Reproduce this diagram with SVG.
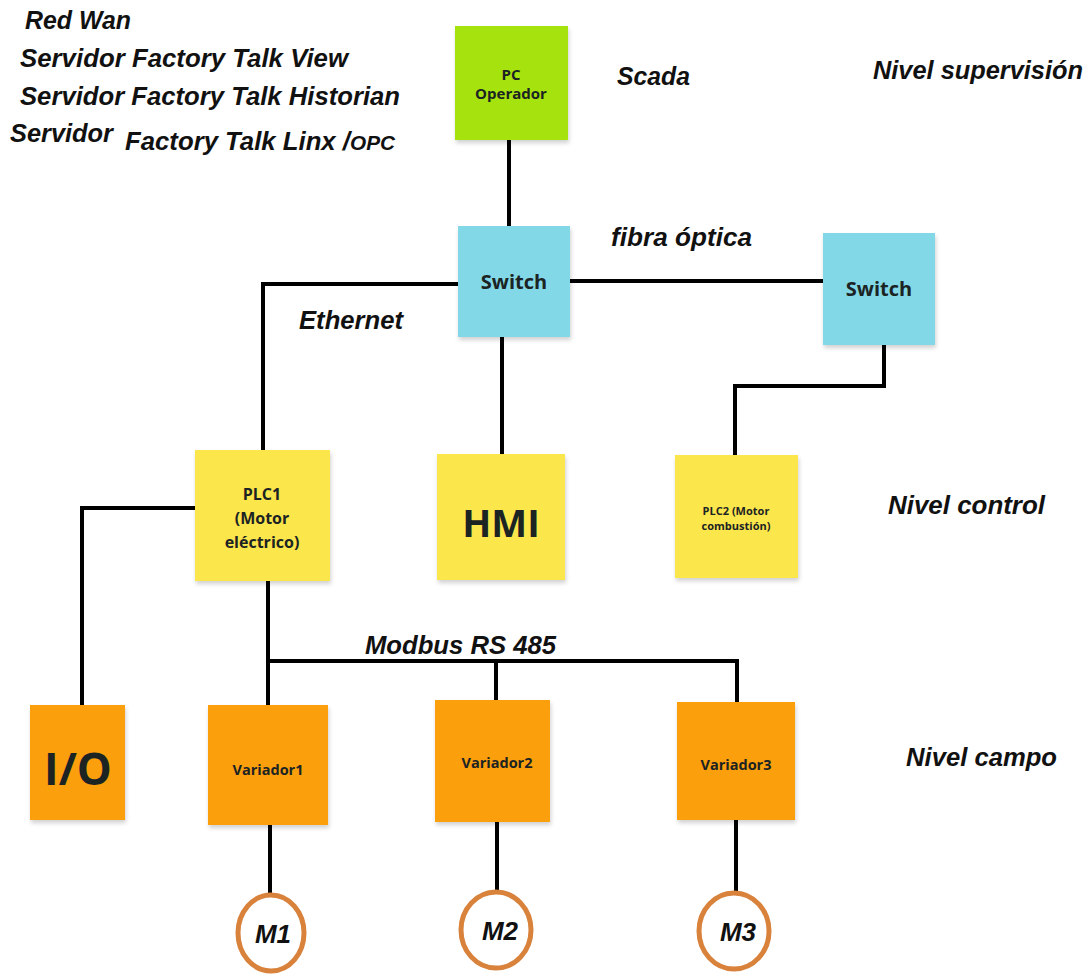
<svg xmlns="http://www.w3.org/2000/svg" width="1092" height="976" viewBox="0 0 1092 976">
<style>
.lbl{font-family:"Liberation Sans",Arial,sans-serif;font-weight:bold;font-style:italic;fill:#111;font-size:25px}
.bx{font-family:"Open Sans","Liberation Sans",sans-serif;font-weight:bold;fill:#1b2323;text-anchor:middle}
.ln{stroke:#000;stroke-width:4;fill:none}
.mot{fill:#fff;stroke:#d8823c;stroke-width:5}
.mt{font-family:"Liberation Sans",Arial,sans-serif;font-weight:bold;font-style:italic;font-size:26px;fill:#111;text-anchor:middle}
</style>
<defs>
<filter id="sh" x="-10%" y="-10%" width="130%" height="130%">
<feDropShadow dx="1" dy="3" stdDeviation="2" flood-color="#000" flood-opacity="0.18"/>
</filter>
</defs>
<rect width="1092" height="976" fill="#fff"/>

<g id="labels">
<text class="lbl" x="25" y="29" textLength="106" lengthAdjust="spacingAndGlyphs">Red Wan</text>
<text class="lbl" x="20" y="67" textLength="328" lengthAdjust="spacingAndGlyphs">Servidor Factory Talk View</text>
<text class="lbl" x="20" y="105" textLength="380" lengthAdjust="spacingAndGlyphs">Servidor Factory Talk Historian</text>
<text class="lbl" x="10" y="142" textLength="103" lengthAdjust="spacingAndGlyphs">Servidor</text>
<text class="lbl" x="125" y="150"><tspan textLength="225" lengthAdjust="spacingAndGlyphs">Factory Talk Linx /</tspan><tspan font-size="20" textLength="45" lengthAdjust="spacingAndGlyphs">OPC</tspan></text>
<text class="lbl" x="617" y="85" textLength="73" lengthAdjust="spacingAndGlyphs">Scada</text>
<text class="lbl" x="873" y="79" textLength="210" lengthAdjust="spacingAndGlyphs">Nivel supervisión</text>
<text class="lbl" x="611" y="246" textLength="141" lengthAdjust="spacingAndGlyphs">fibra óptica</text>
<text class="lbl" x="299" y="329" textLength="104" lengthAdjust="spacingAndGlyphs">Ethernet</text>
<text class="lbl" x="888" y="514" textLength="157" lengthAdjust="spacingAndGlyphs">Nivel control</text>
<text class="lbl" x="365" y="654" textLength="191" lengthAdjust="spacingAndGlyphs">Modbus RS 485</text>
<text class="lbl" x="906" y="766" textLength="151" lengthAdjust="spacingAndGlyphs">Nivel campo</text>
</g>

<g id="connectors">
<path class="ln" d="M509,140 V226"/>
<path class="ln" d="M570,281 H823"/>
<path class="ln" d="M458,284 H263 V450"/>
<path class="ln" d="M502,337 V455"/>
<path class="ln" d="M884,345 V386 H735 V455"/>
<path class="ln" d="M195,508 H82 V705"/>
<path class="ln" d="M268,581 V705"/>
<path class="ln" d="M268,661 H737 V702"/>
<path class="ln" d="M496,661 V700"/>
<path class="ln" d="M270,825 V895"/>
<path class="ln" d="M497,822 V890"/>
<path class="ln" d="M736,820 V892"/>
</g>

<g id="pc-operador">
<rect x="455" y="26" width="113" height="114" fill="#a6e20a" filter="url(#sh)"/>
<text class="bx" x="511" y="80" font-size="15">PC</text>
<text class="bx" x="511" y="99" font-size="15">Operador</text>
</g>
<g id="switch1">
<rect x="458" y="226" width="112" height="111" fill="#82d8e6" filter="url(#sh)"/>
<text class="bx" x="514" y="289" font-size="20">Switch</text>
</g>
<g id="switch2">
<rect x="823" y="233" width="112" height="112" fill="#82d8e6" filter="url(#sh)"/>
<text class="bx" x="879" y="296" font-size="20">Switch</text>
</g>
<g id="plc1">
<rect x="195" y="450" width="135" height="131" fill="#fbe64c" filter="url(#sh)"/>
<text class="bx" x="262" y="500" font-size="16">PLC1</text>
<text class="bx" x="262" y="524" font-size="16">(Motor</text>
<text class="bx" x="262" y="548" font-size="16">eléctrico)</text>
</g>
<g id="hmi">
<rect x="437" y="454" width="128" height="126" fill="#fbe64c" filter="url(#sh)"/>
<text class="bx" x="501" y="537" font-size="38">HMI</text>
</g>
<g id="plc2">
<rect x="675" y="455" width="123" height="123" fill="#fbe64c" filter="url(#sh)"/>
<text class="bx" x="736" y="515" font-size="11">PLC2 (Motor</text>
<text class="bx" x="736" y="530" font-size="11">combustión)</text>
</g>
<g id="io">
<rect x="30" y="705" width="95" height="115" fill="#fb9f0a" filter="url(#sh)"/>
<text class="bx" x="78" y="785" font-size="44">I/O</text>
</g>
<g id="variador1">
<rect x="208" y="705" width="120" height="120" fill="#fb9f0a" filter="url(#sh)"/>
<text class="bx" x="268" y="775" font-size="14.5">Variador1</text>
</g>
<g id="variador2">
<rect x="435" y="700" width="115" height="122" fill="#fb9f0a" filter="url(#sh)"/>
<text class="bx" x="497" y="768" font-size="14.5">Variador2</text>
</g>
<g id="variador3">
<rect x="677" y="702" width="118" height="118" fill="#fb9f0a" filter="url(#sh)"/>
<text class="bx" x="736" y="770" font-size="14.5">Variador3</text>
</g>
<g id="m1">
<ellipse class="mot" cx="271" cy="933" rx="33" ry="38"/>
<text class="mt" x="273" y="943">M1</text>
</g>
<g id="m2">
<ellipse class="mot" cx="496" cy="930" rx="35" ry="38"/>
<text class="mt" x="500" y="940">M2</text>
</g>
<g id="m3">
<ellipse class="mot" cx="734" cy="931" rx="35" ry="38"/>
<text class="mt" x="738" y="941">M3</text>
</g>
</svg>
